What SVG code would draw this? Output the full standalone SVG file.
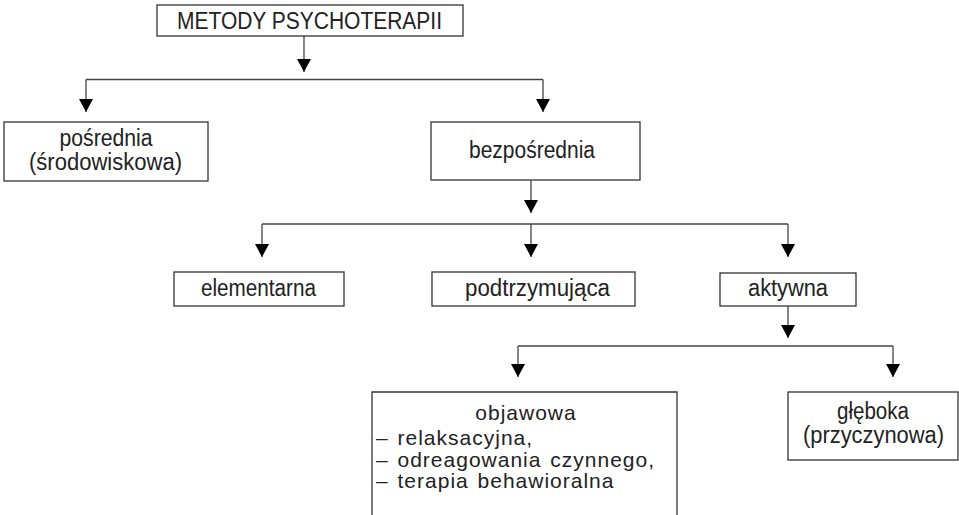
<svg xmlns="http://www.w3.org/2000/svg" width="959" height="515" viewBox="0 0 959 515">
<style>
  .box { fill: #fff; stroke: #333; stroke-width: 1.3; }
  .t { font-family: "Liberation Sans", Arial, sans-serif; font-size: 23px; fill: #222; text-anchor: middle; }
  .tl { font-family: "Liberation Sans", Arial, sans-serif; font-size: 21px; fill: #222; letter-spacing: 1px; word-spacing: 2px; }
  .c { fill: none; stroke: #444; stroke-width: 1.3; }
</style>
<defs>
  <marker id="arr" viewBox="0 0 13 14" refX="13" refY="7" markerWidth="13" markerHeight="14" markerUnits="userSpaceOnUse" orient="auto">
    <polygon points="0,0 13,7 0,14" fill="#000"/>
  </marker>
</defs>
<rect width="959" height="515" fill="#fff"/>
<g id="connectors">
  <path class="c" d="M304 36 V72" marker-end="url(#arr)"/>
  <path class="c" d="M86 79.5 H543"/>
  <path class="c" d="M86 79.5 V112" marker-end="url(#arr)"/>
  <path class="c" d="M543 79.5 V112" marker-end="url(#arr)"/>
  <path class="c" d="M531 180 V213" marker-end="url(#arr)"/>
  <path class="c" d="M262 224 H788"/>
  <path class="c" d="M262 224 V257" marker-end="url(#arr)"/>
  <path class="c" d="M531 224 V257" marker-end="url(#arr)"/>
  <path class="c" d="M788 224 V257" marker-end="url(#arr)"/>
  <path class="c" d="M788 306 V338" marker-end="url(#arr)"/>
  <path class="c" d="M518 346 H893"/>
  <path class="c" d="M518 346 V377" marker-end="url(#arr)"/>
  <path class="c" d="M893 346 V377" marker-end="url(#arr)"/>
</g>
<g id="metody">
  <rect class="box" x="157" y="5" width="306" height="31"/>
  <text class="t" x="309.5" y="29" textLength="265" lengthAdjust="spacingAndGlyphs">METODY PSYCHOTERAPII</text>
</g>
<g id="posrednia">
  <rect class="box" x="4" y="122" width="204" height="59"/>
  <text class="t" x="106" y="146" textLength="93" lengthAdjust="spacingAndGlyphs">pośrednia</text>
  <text class="t" x="105.5" y="170" textLength="153" lengthAdjust="spacingAndGlyphs">(środowiskowa)</text>
</g>
<g id="bezposrednia">
  <rect class="box" x="431" y="122" width="209" height="58"/>
  <text class="t" x="532" y="158" textLength="126" lengthAdjust="spacingAndGlyphs">bezpośrednia</text>
</g>
<g id="elementarna">
  <rect class="box" x="174" y="272" width="170" height="34"/>
  <text class="t" x="258.5" y="296" textLength="115" lengthAdjust="spacingAndGlyphs">elementarna</text>
</g>
<g id="podtrzymujaca">
  <rect class="box" x="432" y="272" width="203" height="34"/>
  <text class="t" x="537.5" y="296" textLength="145" lengthAdjust="spacingAndGlyphs">podtrzymująca</text>
</g>
<g id="aktywna">
  <rect class="box" x="720" y="273" width="136" height="33"/>
  <text class="t" x="788" y="296" textLength="80" lengthAdjust="spacingAndGlyphs">aktywna</text>
</g>
<g id="objawowa">
  <path class="box" d="M372 516 V392 H677 V516"/>
  <text class="tl" x="526" y="420" text-anchor="middle">objawowa</text>
  <text class="tl" x="376" y="445">– relaksacyjna,</text>
  <text class="tl" x="376" y="467">– odreagowania czynnego,</text>
  <text class="tl" x="376" y="488">– terapia behawioralna</text>
</g>
<g id="gleboka">
  <rect class="box" x="788" y="392" width="170" height="68"/>
  <text class="t" x="873" y="419" textLength="72" lengthAdjust="spacingAndGlyphs">głęboka</text>
  <text class="t" x="873.5" y="443" textLength="141" lengthAdjust="spacingAndGlyphs">(przyczynowa)</text>
</g>
</svg>
